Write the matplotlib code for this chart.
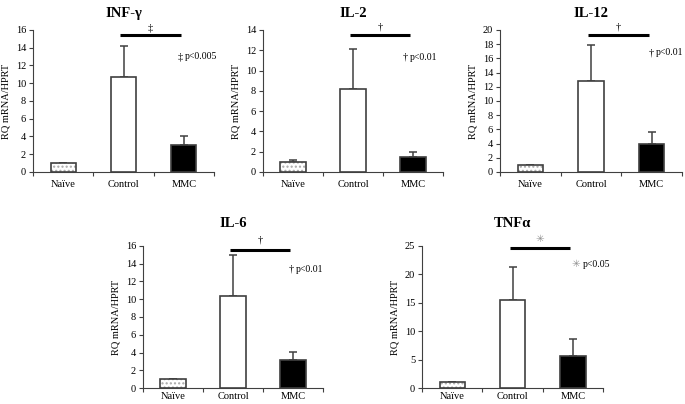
import matplotlib
matplotlib.use("Agg")
import matplotlib.pyplot as plt
import numpy as np

plt.rcParams['font.family'] = ['Liberation Serif', 'DejaVu Sans']
plt.rcParams['hatch.linewidth'] = 1.0

groups = ["Naïve", "Control", "MMC"]
titles = ["INF-γ", "IL-2", "IL-12", "IL-6", "TNFα"]

# mean RQ per group, and upper error (SD)
inf_g = [1.0, 10.7, 3.0]
inf_g_err = [0.0, 3.5, 1.1]
il2 = [1.0, 8.2, 1.5]
il2_err = [0.2, 3.9, 0.5]
il12 = [1.0, 12.8, 4.0]
il12_err = [0.0, 5.1, 1.7]
il6 = [1.0, 10.4, 3.2]
il6_err = [0.0, 4.6, 0.85]
tnfa = [1.0, 15.5, 5.6]
tnfa_err = [0.0, 5.8, 3.0]

ymax = [16, 14, 20, 16, 25]
ystep = [2, 2, 2, 2, 5]

sig_mark = ["‡", "†", "†", "†", "✳"]
sig_text = ["p<0.005", "p<0.01", "p<0.01", "p<0.01", "p<0.05"]
sig_bar_y = [15.4, 13.5, 19.3, 15.5, 24.6]
sig_mark_y = [16.2, 14.3, 20.4, 16.7, 26.2]
note_xy = [(1.89, 13.0), (1.83, 11.3), (1.95, 16.8), (1.93, 13.4), (1.97, 21.7)]

means = [inf_g, il2, il12, il6, tnfa]
errs = [inf_g_err, il2_err, il12_err, il6_err, tnfa_err]

positions = [
    [0.0482, 0.5743, 0.2642, 0.3515],
    [0.3839, 0.5743, 0.2628, 0.3515],
    [0.7299, 0.5743, 0.2657, 0.3515],
    [0.2088, 0.0396, 0.2628, 0.3515],
    [0.6161, 0.0396, 0.2642, 0.3515],
]

edge = "#404040"
fig = plt.figure(figsize=(6.85, 4.04), dpi=100)

for i in range(5):
    top_row = i < 3
    ax = fig.add_axes(positions[i])
    x = np.arange(3)
    w = 0.42
    # dotted fill for naive
    ax.bar(x[0], means[i][0], w, color="white", edgecolor="#a8a8a8",
           hatch="....", linewidth=0, zorder=2)
    ax.bar(x[0], means[i][0], w, color="none", edgecolor=edge, linewidth=1.2, zorder=3)
    ax.bar(x[1], means[i][1], w, color="white", edgecolor=edge, linewidth=1.2, zorder=3)
    ax.bar(x[2], means[i][2], w, color="black", edgecolor=edge, linewidth=1.2, zorder=3)
    e = np.array(errs[i])
    ax.errorbar(x, means[i], yerr=[np.zeros(3), e], fmt="none", ecolor=edge,
                elinewidth=1.1, capsize=3, capthick=1.1, zorder=1)

    ax.set_xlim(-0.5, 2.5)
    ax.set_ylim(0, ymax[i])
    ax.set_yticks(np.arange(0, ymax[i] + 0.1, ystep[i]))
    ax.set_xticks(x)
    ax.set_xticklabels(groups)
    ax.set_xticks([-0.5, 0.5, 1.5, 2.5], minor=True)
    ax.tick_params(axis="x", which="major", length=0, pad=6 if top_row else 3,
                   labelsize=7.5)
    ax.tick_params(axis="x", which="minor", length=3, color=edge, width=0.8)
    ax.tick_params(axis="y", length=3, color=edge, width=0.8, labelsize=7.5, pad=2)
    for s in ["top", "right"]:
        ax.spines[s].set_visible(False)
    for s in ["left", "bottom"]:
        ax.spines[s].set_color(edge)
        ax.spines[s].set_linewidth(0.8)
    ax.set_ylabel("RQ mRNA/HPRT", fontsize=7.5, labelpad=4)
    ax.set_title(titles[i], fontsize=10.5, fontweight="bold",
                 pad=9 if top_row else 14)

    is_star = sig_mark[i] == "✳"
    mark_col = "#909090" if is_star else "black"
    ax.plot([0.95, 1.95], [sig_bar_y[i]] * 2, color="black", linewidth=2.2,
            clip_on=False, solid_capstyle="butt")
    ax.text(1.45, sig_mark_y[i], sig_mark[i], ha="center", va="center",
            fontsize=7.5, color=mark_col, clip_on=False)
    nx, ny = note_xy[i]
    ax.text(nx, ny, sig_mark[i], ha="left", va="center", color=mark_col,
            fontsize=7.5, clip_on=False)
    ax.text(nx + (0.2 if is_star else 0.12), ny, sig_text[i], ha="left", va="center",
            fontsize=7, clip_on=False)

fig.savefig("out.png", dpi=100)
